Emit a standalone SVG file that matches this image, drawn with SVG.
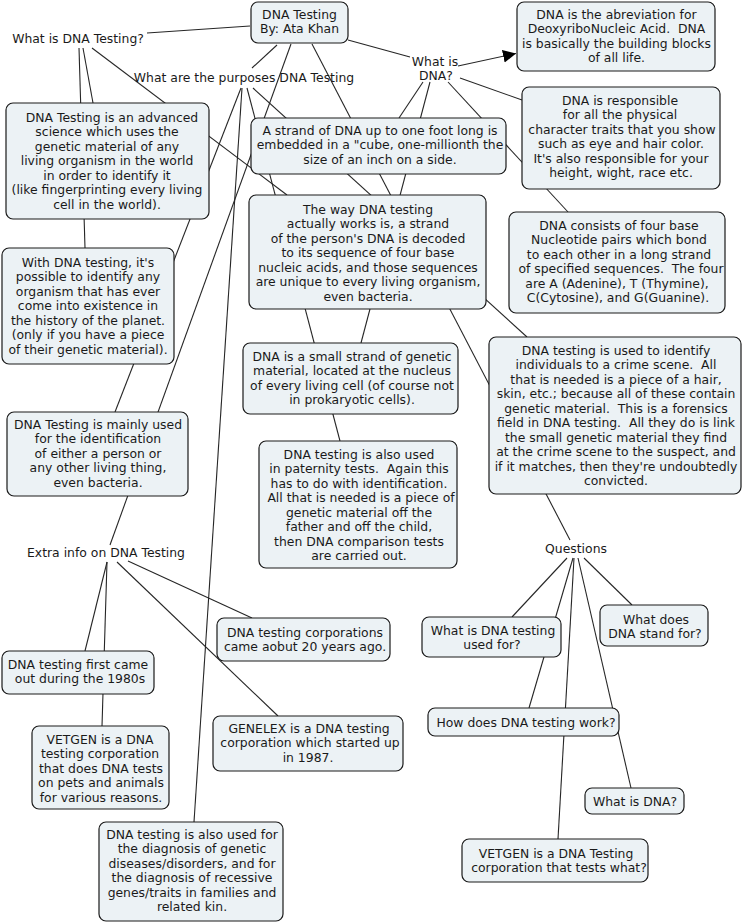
<svg xmlns="http://www.w3.org/2000/svg" width="743" height="923" viewBox="0 0 743 923">
<style>
.n rect{fill:#ecf2f5;stroke:#1a1a1a;stroke-width:1.2}
text{font-family:"DejaVu Sans","Liberation Sans",sans-serif;font-size:12.4px;fill:#1a1a1a;text-anchor:middle;white-space:pre}
.c line{stroke:#262626;stroke-width:1.1}
</style>
<defs>
<marker id="ah" markerUnits="userSpaceOnUse" markerWidth="14" markerHeight="14" refX="13" refY="7" orient="auto">
<path d="M0,0.5 L13,7 L0,13.5 z" fill="#000"/>
</marker>
</defs>
<rect width="743" height="923" fill="#fff"/>
<g id="connectors" class="c">
<line x1="250" y1="26" x2="147" y2="33"/>
<line x1="277" y1="45" x2="252" y2="68"/>
<line x1="291" y1="44" x2="110" y2="545"/>
<line x1="312" y1="44" x2="570" y2="540"/>
<line x1="348" y1="40" x2="410" y2="57"/>
<line x1="79" y1="48" x2="85" y2="248"/>
<line x1="83" y1="48" x2="93" y2="103"/>
<line x1="92" y1="48" x2="287" y2="195"/>
<line x1="241" y1="88" x2="115" y2="412"/>
<line x1="242" y1="88" x2="194" y2="822"/>
<line x1="247" y1="88" x2="340" y2="441"/>
<line x1="253" y1="88" x2="527" y2="337"/>
<line x1="458" y1="66" x2="516" y2="53.5" marker-end="url(#ah)"/>
<line x1="460" y1="78" x2="522" y2="100"/>
<line x1="423" y1="82" x2="399" y2="118"/>
<line x1="430" y1="82" x2="361" y2="343"/>
<line x1="448" y1="82" x2="568" y2="212"/>
<line x1="107" y1="562" x2="85" y2="651"/>
<line x1="107" y1="562" x2="102" y2="726"/>
<line x1="117" y1="562" x2="278" y2="716"/>
<line x1="128" y1="561" x2="252" y2="618"/>
<line x1="567" y1="558" x2="512" y2="617"/>
<line x1="573" y1="558" x2="529" y2="708"/>
<line x1="574" y1="558" x2="558" y2="839"/>
<line x1="578" y1="558" x2="631" y2="788"/>
<line x1="584" y1="558" x2="632" y2="605"/>
</g>
<g id="label-what-is-dna-testing"><text x="78" y="43">What is DNA Testing?</text></g>
<g id="label-purposes"><text x="244" y="82">What are the purposes DNA Testing</text></g>
<g id="label-what-is-dna"><text x="435" y="66">What is</text><text x="436" y="80">DNA?</text></g>
<g id="label-extra"><text x="106" y="557">Extra info on DNA Testing</text></g>
<g id="label-questions"><text x="576" y="553">Questions</text></g>

<g id="root" class="n"><rect x="251" y="2" width="97" height="41" rx="7"/>
<text x="299.5" y="18.5">DNA Testing</text><text x="299.5" y="33">By: Ata Khan</text></g>

<g id="abbrev" class="n"><rect x="517" y="2" width="198" height="69" rx="7"/>
<text x="616.5" y="18.5">DNA is the abreviation for</text>
<text x="616.5" y="33">DeoxyriboNucleic Acid.  DNA</text>
<text x="616.5" y="47.5">is basically the building blocks</text>
<text x="616.5" y="62">of all life.</text></g>

<g id="responsible" class="n"><rect x="522" y="87" width="198" height="102" rx="7"/>
<text x="620" y="104.5">DNA is responsible</text>
<text x="620" y="119">for all the physical</text>
<text x="622" y="133.5">character traits that you show</text>
<text x="621" y="148">such as eye and hair color.</text>
<text x="621" y="162.5">It's also responsible for your</text>
<text x="621" y="177">height, wight, race etc.</text></g>

<g id="strand" class="n"><rect x="251" y="118" width="255" height="56" rx="7"/>
<text x="380" y="134.5">A strand of DNA up to one foot long is</text>
<text x="380" y="149">embedded in a "cube, one-millionth the</text>
<text x="380" y="163.5">size of an inch on a side.</text></g>

<g id="way" class="n"><rect x="249" y="195" width="237" height="114" rx="7"/>
<text x="368" y="213.5">The way DNA testing</text>
<text x="368" y="228">actually works is, a strand</text>
<text x="368" y="242.5">of the person's DNA is decoded</text>
<text x="368" y="257">to its sequence of four base</text>
<text x="368" y="271.5">nucleic acids, and those sequences</text>
<text x="368" y="286">are unique to every living organism,</text>
<text x="368" y="300.5">even bacteria.</text></g>

<g id="consists" class="n"><rect x="509" y="212" width="216" height="101" rx="7"/>
<text x="619" y="229.5">DNA consists of four base</text>
<text x="619" y="244">Nucleotide pairs which bond</text>
<text x="619" y="258.5">to each other in a long strand</text>
<text x="621" y="273">of specified sequences.  The four</text>
<text x="617" y="287.5">are A (Adenine), T (Thymine),</text>
<text x="618" y="302">C(Cytosine), and G(Guanine).</text></g>

<g id="crime" class="n"><rect x="489" y="337" width="252" height="157" rx="7"/>
<text x="616" y="354.5">DNA testing is used to identify</text>
<text x="616" y="369">individuals to a crime scene.  All</text>
<text x="616" y="383.5">that is needed is a piece of a hair,</text>
<text x="616" y="398">skin, etc.; because all of these contain</text>
<text x="616" y="412.5">genetic material.  This is a forensics</text>
<text x="616" y="427">field in DNA testing.  All they do is link</text>
<text x="616" y="441.5">the small genetic material they find</text>
<text x="616" y="456">at the crime scene to the suspect, and</text>
<text x="616" y="470.5">if it matches, then they're undoubtedly</text>
<text x="616" y="485">convicted.</text></g>

<g id="advanced" class="n"><rect x="6" y="103" width="203" height="116" rx="7"/>
<text x="112" y="121.5">DNA Testing is an advanced</text>
<text x="107" y="136">science which uses the</text>
<text x="107" y="150.5">genetic material of any</text>
<text x="107" y="165">living organism in the world</text>
<text x="107" y="179.5">in order to identify it</text>
<text x="107" y="194">(like fingerprinting every living</text>
<text x="107" y="208.5">cell in the world).</text></g>

<g id="with" class="n"><rect x="2" y="248" width="172" height="116" rx="7"/>
<text x="88" y="266.5">With DNA testing, it's</text>
<text x="88" y="281">possible to identify any</text>
<text x="88" y="295.5">organism that has ever</text>
<text x="88" y="310">come into existence in</text>
<text x="88" y="324.5">the history of the planet.</text>
<text x="88" y="339">(only if you have a piece</text>
<text x="88" y="353.5">of their genetic material).</text></g>

<g id="mainly" class="n"><rect x="7" y="412" width="181" height="84" rx="7"/>
<text x="98" y="428.5">DNA Testing is mainly used</text>
<text x="98" y="443">for the identification</text>
<text x="98" y="457.5">of either a person or</text>
<text x="98" y="472">any other living thing,</text>
<text x="98" y="486.5">even bacteria.</text></g>

<g id="small-strand" class="n"><rect x="243" y="343" width="215" height="71" rx="7"/>
<text x="352" y="360.5">DNA is a small strand of genetic</text>
<text x="352" y="375">material, located at the nucleus</text>
<text x="352" y="389.5">of every living cell (of course not</text>
<text x="352" y="404">in prokaryotic cells).</text></g>

<g id="paternity" class="n"><rect x="259" y="441" width="198" height="127" rx="7"/>
<text x="359" y="458.5">DNA testing is also used</text>
<text x="359" y="473">in paternity tests.  Again this</text>
<text x="359" y="487.5">has to do with identification.</text>
<text x="361" y="502">All that is needed is a piece of</text>
<text x="359" y="516.5">genetic material off the</text>
<text x="359" y="531">father and off the child,</text>
<text x="359" y="545.5">then DNA comparison tests</text>
<text x="359" y="560">are carried out.</text></g>

<g id="corporations" class="n"><rect x="217" y="618" width="173" height="43" rx="7"/>
<text x="305" y="636.5">DNA testing corporations</text>
<text x="305" y="651">came aobut 20 years ago.</text></g>

<g id="first" class="n"><rect x="2" y="651" width="152" height="43" rx="7"/>
<text x="78" y="668.5">DNA testing first came</text>
<text x="80" y="683">out during the 1980s</text></g>

<g id="vetgen" class="n"><rect x="32" y="726" width="137" height="83" rx="7"/>
<text x="100" y="743.5">VETGEN is a DNA</text>
<text x="100" y="758">testing corporation</text>
<text x="101" y="772.5">that does DNA tests</text>
<text x="101" y="787">on pets and animals</text>
<text x="101" y="801.5">for various reasons.</text></g>

<g id="genelex" class="n"><rect x="213" y="716" width="190" height="55" rx="7"/>
<text x="309" y="732.5">GENELEX is a DNA testing</text>
<text x="310" y="747">corporation which started up</text>
<text x="308" y="761.5">in 1987.</text></g>

<g id="diagnosis" class="n"><rect x="99" y="822" width="184" height="99" rx="7"/>
<text x="192" y="838.5">DNA testing is also used for</text>
<text x="192" y="853">the diagnosis of genetic</text>
<text x="192" y="867.5">diseases/disorders, and for</text>
<text x="192" y="882">the diagnosis of recessive</text>
<text x="192" y="896.5">genes/traits in families and</text>
<text x="192" y="911">related kin.</text></g>

<g id="q-used-for" class="n"><rect x="422" y="617" width="139" height="40" rx="7"/>
<text x="493" y="634.5">What is DNA testing</text>
<text x="492" y="649">used for?</text></g>

<g id="q-stand-for" class="n"><rect x="600" y="605" width="108" height="41" rx="7"/>
<text x="656" y="623.5">What does</text>
<text x="655" y="637.5">DNA stand for?</text></g>

<g id="q-how" class="n"><rect x="428" y="708" width="191" height="28" rx="7"/>
<text x="526" y="726.5">How does DNA testing work?</text></g>

<g id="q-what-is-dna" class="n"><rect x="585" y="788" width="99" height="26" rx="7"/>
<text x="635" y="806">What is DNA?</text></g>

<g id="q-vetgen" class="n"><rect x="462" y="839" width="186" height="43" rx="7"/>
<text x="556" y="857.5">VETGEN is a DNA Testing</text>
<text x="559" y="871.5">corporation that tests what?</text></g>
</svg>
